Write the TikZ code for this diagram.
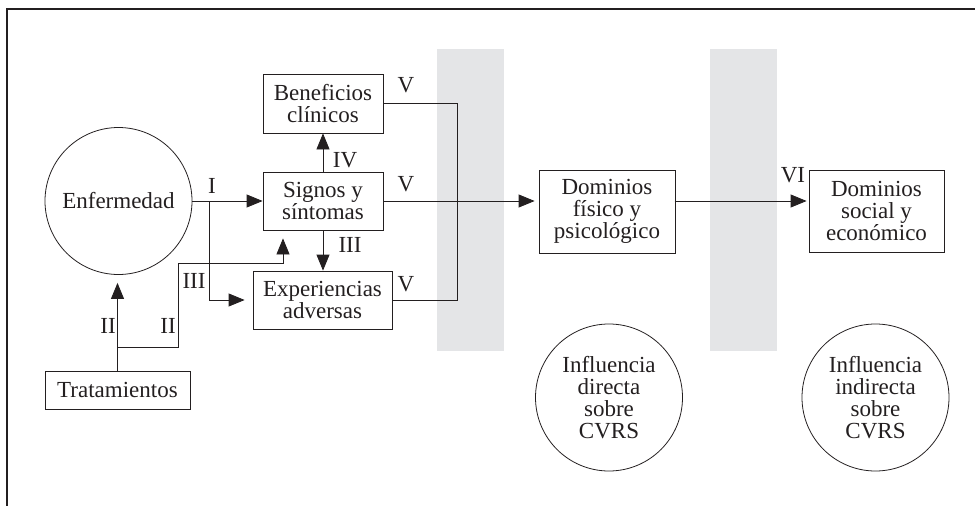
\documentclass[tikz,border=0pt]{standalone}
\usepackage{fontspec}
\setmainfont{Liberation Serif}
\usetikzlibrary{arrows.meta}
\definecolor{bandgray}{RGB}{228,229,231}
\definecolor{ink}{RGB}{35,31,32}
\begin{document}
\begin{tikzpicture}[x=1pt,y=-1pt,
  every node/.style={font=\fontsize{23}{21.8}\selectfont, text=ink},
  box/.style={draw=ink, line width=0.8pt, inner sep=0pt, align=center},
  ring/.style={draw=ink, line width=0.8pt, circle, inner sep=0pt, align=center, minimum size=147pt},
  link/.style={draw=ink, line width=0.8pt},
  arr/.style={link, -{Triangle[length=16pt,width=13pt]}},
  band/.style={fill=bandgray, draw=none},
  tag/.style={inner sep=0pt}
]
\useasboundingbox (0,0) rectangle (975,506);

% outer frame (open towards right and bottom)
\draw[ink, line width=1.6pt] (7,506) -- (7,9) -- (975,9);

% shaded separators
\fill[band] (437,49) rectangle (504,351);
\fill[band] (710,49) rectangle (777,351);

% nodes
\node[ring] (enf) at (118.5,201) {Enfermedad};
\node[box, minimum width=145pt, minimum height=38pt] (trat) at (117.5,390) {Tratamientos};
\node[box, minimum width=120pt, minimum height=59pt] (ben) at (323,103.5) {Beneficios\\cl\'inicos};
\node[box, minimum width=120pt, minimum height=58pt] (sig) at (323,201) {Signos y\\s\'intomas};
\node[box, minimum width=139pt, minimum height=58pt] (exp) at (322.5,300) {Experiencias\\adversas};
\node[box, minimum width=136pt, minimum height=83pt] (fis) at (607,211.5) {Dominios\\f\'isico y\\psicol\'ogico};
\node[box, minimum width=135pt, minimum height=82pt] (soc) at (876.5,211) {Dominios\\social y\\econ\'omico};
\node[ring] (dir) at (609,397.5) {Influencia\\directa\\sobre\\CVRS};
\node[ring] (ind) at (875.5,397.5) {Influencia\\indirecta\\sobre\\CVRS};

% junction points
\coordinate (j1) at (209,201);
\coordinate (k1) at (117.5,347);
\coordinate (k2) at (178,263);
\coordinate (k3) at (283,263);
\coordinate (vbus) at (457,300);

% connectors
\draw[arr] (enf.east) -- (enf.east -| sig.west);
\draw[arr, shorten >=8pt] (j1) |- (exp.west);
\draw[arr] (sig.north) -- (ben.south);
\draw[arr] (sig.south) -- (sig.south |- exp.north);
\draw[arr, shorten >=8pt] (trat.north) -- (trat.north |- enf.south);
\draw[arr, shorten >=8pt] (k1) -| (k2) -- (k3) -- (k3 |- sig.south);
\draw[link] (ben.east) -| (vbus) -- (exp.east);
\draw[arr, shorten >=4pt] (sig.east) -- (sig.east -| fis.west);
\draw[arr, shorten >=2pt] (fis.west |- sig.east) ++(136,0) coordinate (f1) (f1) -- (f1 -| soc.west);

% roman numeral labels
\node[tag] (lI) at (212,185.5) {I};
\node[tag] (lIV) at (345,160) {IV};
\node[tag] (lIIIa) at (350,245) {III};
\node[tag] (lIIIb) at (194,281) {III};
\node[tag] (lIIa) at (108,326) {II};
\node[tag] (lIIb) at (168,326) {II};
\node[tag] (lV1) at (406,85) {V};
\node[tag] (lV2) at (406,184) {V};
\node[tag] (lV3) at (406,284) {V};
\node[tag] (lVI) at (793,175) {VI};
\end{tikzpicture}
\end{document}
